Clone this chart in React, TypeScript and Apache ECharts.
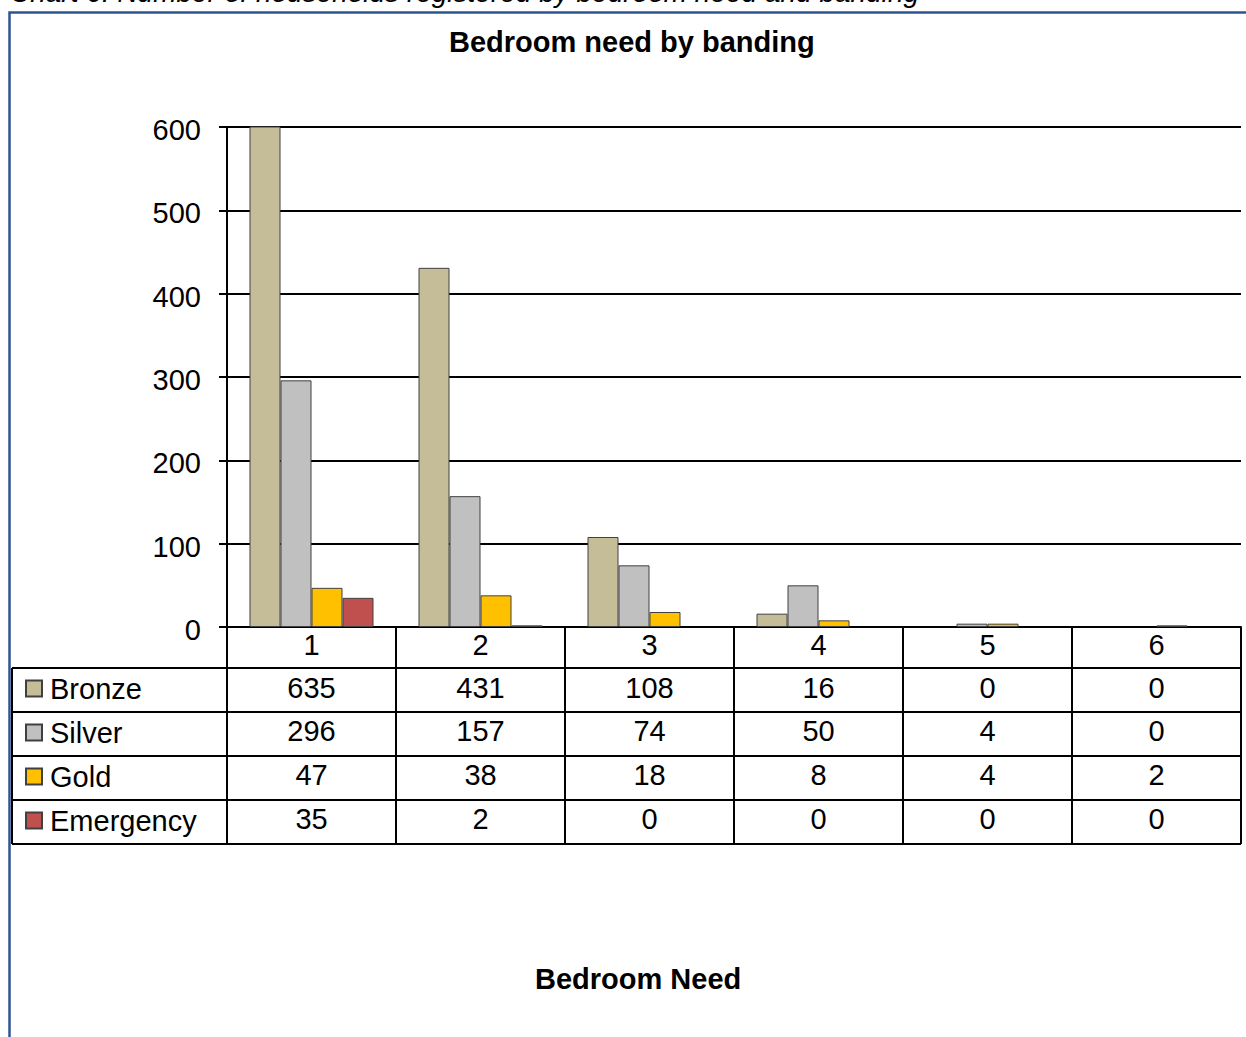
import React, { useEffect, useRef } from "react";
import * as echarts from "echarts";

const categories = ["1", "2", "3", "4", "5", "6"];
const seriesNames = ["Bronze", "Silver", "Gold", "Emergency"];
const bronze = [635, 431, 108, 16, 0, 0];
const silver = [296, 157, 74, 50, 4, 0];
const gold = [47, 38, 18, 8, 4, 2];
const emergency = [35, 2, 0, 0, 0, 0];
const yTicks = [0, 100, 200, 300, 400, 500, 600];
const colors = ["#C4BD97", "#C0C0C0", "#FFC000", "#C0504D"];

const FONT = "'Liberation Sans', Arial, sans-serif";
const FS = 29;

export default function App() {
  const ref = useRef<HTMLDivElement>(null);
  useEffect(() => {
    if (!ref.current) return;
    const chart = echarts.init(ref.current, undefined, { renderer: "svg" });
    const rows = [bronze, silver, gold, emergency];
    const W = 1246;
    const gridLeft = 227;
    const gridRight = 1241;
    const axisY = 627;
    const rowLines = [668, 712, 756, 800, 844];
    const rowMargins = [46, 89, 133, 177];

    const valueAxes = rows.map((r, k) => ({
      type: "category",
      data: categories,
      position: "bottom",
      gridIndex: 0,
      axisLine: { show: false },
      axisTick: { show: false },
      splitLine: { show: false },
      axisLabel: {
        margin: rowMargins[k],
        fontSize: FS,
        color: "#000",
        fontFamily: FONT,
        formatter: (_v: string, idx: number) => String(r[idx]),
      },
    }));

    const graphics: any[] = [
      {
        type: "text",
        left: 10,
        top: -22,
        style: {
          text: "Chart 6: Number of households registered by bedroom need and banding",
          fontSize: 28,
          fontStyle: "italic",
          fontFamily: FONT,
          fill: "#000",
        },
      },
      {
        type: "polyline",
        shape: { points: [[9.5, 1037], [9.5, 12.5], [W, 12.5]] },
        style: { stroke: "#2E5491", lineWidth: 2.5, fill: "none" },
        z: 10,
      },
      {
        type: "line",
        shape: { x1: 12, y1: rowLines[0], x2: 12, y2: rowLines[rowLines.length - 1] },
        style: { stroke: "#000", lineWidth: 2 },
      },
      ...rowLines.map((y) => ({
        type: "line",
        shape: { x1: 12, y1: y, x2: gridRight, y2: y },
        style: { stroke: "#000", lineWidth: 2 },
      })),
    ];

    chart.setOption({
      animation: false,
      backgroundColor: "#fff",
      textStyle: { fontFamily: FONT },
      title: [
        {
          text: "Bedroom need by banding",
          left: 449,
          top: 27,
          padding: 0,
          textStyle: { fontSize: FS, fontWeight: "bold", color: "#000", fontFamily: FONT },
        },
        {
          text: "Bedroom Need",
          left: 535,
          top: 964,
          padding: 0,
          textStyle: { fontSize: FS, fontWeight: "bold", color: "#000", fontFamily: FONT },
        },
      ],
      legend: {
        orient: "vertical",
        left: 25,
        top: 674,
        padding: 0,
        itemWidth: 16,
        itemHeight: 16,
        itemGap: 15,
        icon: "rect",
        data: seriesNames,
        textStyle: { fontSize: FS, color: "#000", fontFamily: FONT, padding: [0, 0, 0, 3] },
      },
      grid: {
        left: gridLeft,
        right: W - gridRight,
        top: 127,
        bottom: 1037 - axisY,
        containLabel: false,
      },
      xAxis: [
        {
          type: "category",
          data: categories,
          position: "bottom",
          axisLine: { show: true, lineStyle: { color: "#000", width: 2 } },
          axisTick: {
            show: true,
            length: rowLines[rowLines.length - 1] - axisY,
            lineStyle: { color: "#000", width: 2 },
          },
          axisLabel: { margin: 3, fontSize: FS, color: "#000", fontFamily: FONT },
          splitLine: { show: false },
        },
        ...valueAxes,
      ],
      yAxis: {
        type: "value",
        min: yTicks[0],
        max: yTicks[yTicks.length - 1],
        interval: 100,
        axisLine: { show: true, lineStyle: { color: "#000", width: 2 } },
        axisTick: { show: true, length: 8, lineStyle: { color: "#000", width: 2 } },
        axisLabel: {
          margin: 26,
          color: "#000",
          formatter: "{a|{value}}",
          rich: {
            a: { fontSize: FS, color: "#000", fontFamily: FONT, padding: [6, 0, 0, 0] },
          },
        },
        splitLine: { show: true, lineStyle: { color: "#000", width: 2 } },
      },
      series: rows.map((r, i) => ({
        name: seriesNames[i],
        type: "bar",
        xAxisIndex: 0,
        yAxisIndex: 0,
        barWidth: 31,
        barGap: "0%",
        clip: true,
        itemStyle: { color: colors[i], borderColor: "#404040", borderWidth: 1 },
        data: r.map((v) => (v === 0 ? { value: 0, itemStyle: { borderWidth: 0 } } : v)),
      })),
      graphic: graphics,
    });
    return () => chart.dispose();
  }, []);
  return (
    <div
      ref={ref}
      style={{ position: "fixed", left: 0, top: 0, width: 1246, height: 1037 }}
    />
  );
}
